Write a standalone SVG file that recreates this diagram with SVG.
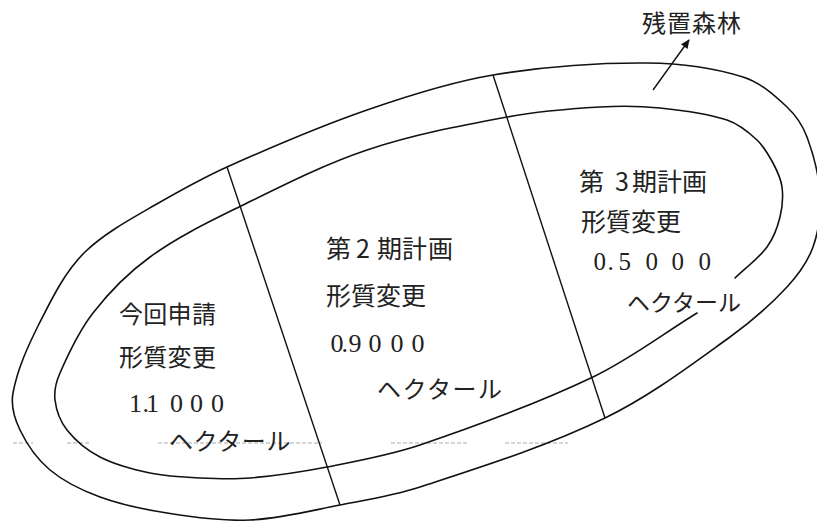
<svg xmlns="http://www.w3.org/2000/svg" width="817" height="521" viewBox="0 0 817 521">
<style>
.ln{fill:none;stroke:#111;stroke-width:1.6;stroke-linecap:round}
.dv{fill:none;stroke:#111;stroke-width:1.4}
.jp{font-family:"Noto Sans CJK JP","Noto Sans CJK SC",sans-serif;fill:#222}
.num{font-family:"Liberation Serif",serif;fill:#222}
.guide{fill:none;stroke:#aaa;stroke-width:1;stroke-dasharray:4 2}
</style>
<defs>
<marker id="ah" viewBox="0 0 10 10" refX="9" refY="5" markerWidth="10" markerHeight="9" orient="auto" markerUnits="userSpaceOnUse"><path d="M0,0.5 L10,5 L0,9.5 z" fill="#111"/></marker>
</defs>
<rect width="817" height="521" fill="#fff"/>
<g id="guide-line">
<path class="guide" d="M13,443 H33 M67,443 H90 M158,443 H322 M391,443 H469 M505,443 H568"/>
</g>
<g id="forest-ring">
<path class="ln" d="M13,393 C17.6,368.4 28,346 39,324 C51.5,299.5 64.5,272 85,252 C104,233.5 130.5,219.1 155,205 C178.5,191.5 202.3,178.1 227,167 C273,146.4 319.4,126.5 367,110 C408.2,95.7 450,82.2 493,75 C543.8,66.5 595.5,62.6 647,63 C679.3,63.3 712.2,67.3 743,77 C760,82.3 774,94.8 787,107 C795.8,115.2 802.8,125.8 807,137 C813.9,155.5 818.9,175.2 820,195 C820.9,212.5 818.9,230.5 813,247 C807.6,262 797.8,275.3 787,287 C769.8,305.6 750.5,322.2 730,337 C689.6,366 649.7,396.3 605,418 C545.8,446.7 482.5,466.5 420,487 C394.1,495.5 366.8,499.8 340,505 C310.1,510.8 280.4,518.6 250,520 C222.2,521.3 194.5,517.2 167,513 C144.3,509.5 121.6,504.9 100,497 C82.3,490.5 64.5,482.1 50,470 C37.2,459.3 27.2,445 20,430 C14.5,418.6 10.7,405.4 13,393 Z"/>
<text class="jp" x="642" y="32" font-size="24" letter-spacing="1">残置森林</text>
</g>
<g id="development-area">
<path class="ln" d="M697,313 C662.3,334.3 629.8,359.5 593,377 C537,403.7 478.7,425.1 420,445 C389.8,455.2 358.3,460.9 327,467 C301.6,471.9 275.8,475.8 250,478 C233.4,479.4 216.7,478.8 200,478 C183.3,477.2 166.3,476.4 150,473 C132.9,469.4 115.5,465.1 100,457 C87.4,450.5 75.8,441.1 67,430 C60.3,421.5 56.3,410.7 55,400 C53.9,390.9 56.3,381.4 60,373 C69.1,352.1 79,331 93,313 C109.3,292 128.5,272.6 150,257 C177.5,237 208.5,222 239,207 C280.9,186.4 322.7,164.9 367,150 C412.4,134.8 459.9,125.7 507,117 C537.7,111.3 568.9,108.8 600,107 C620,105.8 640.1,106 660,108 C682.6,110.3 705.4,112.9 727,120 C738.4,123.8 748.2,131.8 757,140 C763.8,146.4 768.6,154.8 773,163 C777,170.5 780.9,178.6 782,187 C783.3,196.9 782.4,207.3 780,217 C777.4,227.6 773.5,238.2 767,247 C758.1,259 745.7,267.6 735,278"/>
<path class="dv" d="M227,167 L340,505"/>
<path class="dv" d="M493,75 L605,418"/>
</g>
<g id="current-application">
<text class="jp" x="119" y="323" font-size="24" letter-spacing="0.3">今回申請</text>
<text class="jp" x="119" y="366" font-size="24" letter-spacing="0.3">形質変更</text>
<text class="num" x="129 142.5 146 170 190 211" y="412" font-size="26">1.1000</text>
<text class="jp" x="169" y="450" font-size="24" letter-spacing="0.6">ヘクタール</text>
</g>
<g id="phase-2-plan">
<text class="jp" x="326 356 377 402 428" y="258" font-size="25">第2期計画</text>
<text class="jp" x="326" y="305" font-size="25">形質変更</text>
<text class="num" x="330.5 341.5 348.5 368.5 390.5 411.5" y="352" font-size="26">0.9000</text>
<text class="jp" x="377" y="398" font-size="24" letter-spacing="1.5">ヘクタール</text>
</g>
<g id="phase-3-plan">
<text class="jp" x="579 615 632 657 682" y="191" font-size="25">第3期計画</text>
<text class="jp" x="581" y="231" font-size="25">形質変更</text>
<text class="num" x="593.5 607.5 618.5 645.5 671.5 698.5" y="270" font-size="25">0.5000</text>
<text class="jp" x="627" y="311" font-size="23">ヘクタール</text>
</g>
<g id="connectors">
<path class="dv" d="M653,90 L689,40" marker-end="url(#ah)"/>
</g>
</svg>
